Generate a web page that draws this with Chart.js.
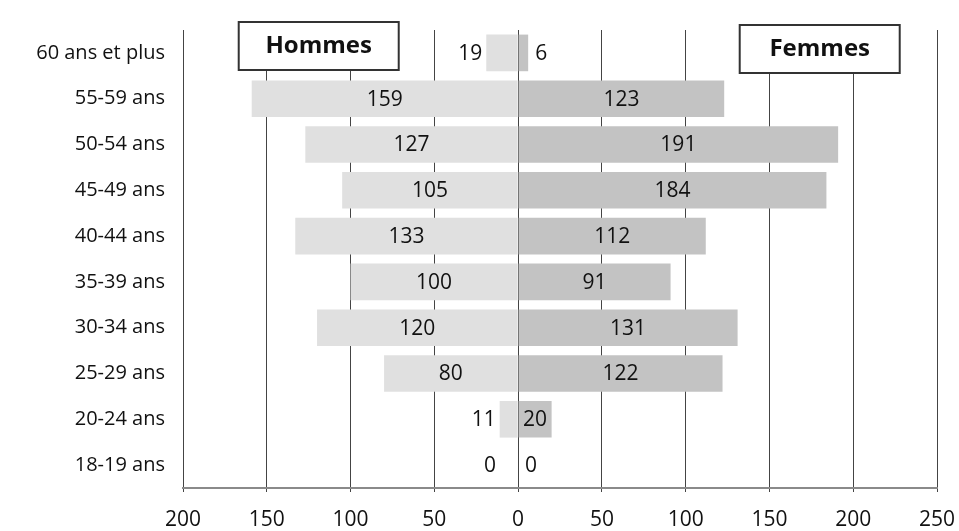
<!DOCTYPE html>
<html>
<head>
<meta charset="utf-8">
<script src="https://cdn.jsdelivr.net/npm/chart.js@4"></script>
<style>
  body { margin: 0; background: #fff; }
  #wrap { width: 959px; height: 531px; }
</style>
</head>
<body>
<div id="wrap"><canvas id="pyramide"></canvas></div>
<script>
var categories = ['60 ans et plus', '55-59 ans', '50-54 ans', '45-49 ans', '40-44 ans',
                  '35-39 ans', '30-34 ans', '25-29 ans', '20-24 ans', '18-19 ans'];
var hommes = [19, 159, 127, 105, 133, 100, 120, 80, 11, 0];
var femmes = [6, 123, 191, 184, 112, 91, 131, 122, 20, 0];
var axis_ticks = [-200, -150, -100, -50, 0, 50, 100, 150, 200, 250];

var font_family = '"Open Sans", "Noto Sans", sans-serif';

// value labels: centred in the bar, or just past the end when the bar is short
const value_labels = {
    id: 'value_labels',
    afterDatasetsDraw(chart) {
        const ctx = chart.ctx;
        ctx.save();
        ctx.font = '21px ' + font_family;
        ctx.fillStyle = '#111';
        ctx.textBaseline = 'middle';
        chart.data.datasets.forEach(function(ds, di) {
            const meta = chart.getDatasetMeta(di);
            const raw = di == 0 ? hommes : femmes;
            meta.data.forEach(function(bar, i) {
                const v = raw[i];
                if (v >= 20) {
                    ctx.textAlign = 'center';
                    ctx.fillText(v, (bar.x + bar.base) / 2, bar.y + 1);
                } else if (di == 0) {
                    ctx.textAlign = 'right';
                    ctx.fillText(v, Math.min(bar.x, bar.base) - (v == 0 ? 22 : 4), bar.y + 1);
                } else {
                    ctx.textAlign = 'left';
                    ctx.fillText(v, Math.max(bar.x, bar.base) + 7, bar.y + 1);
                }
            });
        });
        ctx.restore();
    }
};

// the two framed titles "Hommes" / "Femmes"
const side_titles = {
    id: 'side_titles',
    afterDatasetsDraw(chart) {
        const ctx = chart.ctx;
        const x = chart.scales.x;
        const top = chart.chartArea.top;
        ctx.save();
        [['Hommes', -119, top - 8], ['Femmes', 180, top - 5]].forEach(function(t) {
            const cx = x.getPixelForValue(t[1]);
            const w = 160, h = 48;
            ctx.fillStyle = '#fff';
            ctx.fillRect(cx - w / 2, t[2], w, h);
            ctx.strokeStyle = '#333';
            ctx.lineWidth = 2;
            ctx.strokeRect(cx - w / 2, t[2], w, h);
            ctx.fillStyle = '#111';
            ctx.font = 'bold 24px ' + font_family;
            ctx.textAlign = 'center';
            ctx.textBaseline = 'middle';
            ctx.fillText(t[0], cx, t[2] + h / 2);
        });
        ctx.restore();
    }
};

const pyramide = new Chart(document.getElementById('pyramide'), {
    type: 'bar',
    data: {
        labels: categories,
        datasets: [
            {
                label: 'Hommes',
                data: hommes.map(function(v) { return -v; }),
                backgroundColor: '#e0e0e0',
                barPercentage: 0.8,
                categoryPercentage: 1
            },
            {
                label: 'Femmes',
                data: femmes,
                backgroundColor: '#c3c3c3',
                barPercentage: 0.8,
                categoryPercentage: 1
            }
        ]
    },
    options: {
        indexAxis: 'y',
        responsive: true,
        maintainAspectRatio: false,
        animation: false,
        layout: {
            padding: { top: 27, right: 22, bottom: 0, left: 0 }
        },
        plugins: {
            legend: { display: false },
            tooltip: { enabled: false }
        },
        scales: {
            x: {
                stacked: true,
                min: -200,
                max: 250,
                afterBuildTicks: function(scale) {
                    scale.ticks = axis_ticks.map(function(v) { return { value: v }; });
                },
                afterFit: function(scale) {
                    scale.height = 43;
                    scale.paddingLeft = 0;
                    scale.paddingRight = 0;
                },
                grid: {
                    color: '#444',
                    lineWidth: 1,
                    tickLength: 4
                },
                border: { color: '#8a8a8a', width: 2 },
                ticks: {
                    color: '#111',
                    padding: 15,
                    maxRotation: 0,
                    font: { family: font_family, size: 21 },
                    callback: function(v) { return Math.abs(v); }
                }
            },
            y: {
                stacked: true,
                afterFit: function(scale) { scale.width = 183; },
                grid: { display: false, drawTicks: false },
                border: { display: false },
                ticks: {
                    color: '#111',
                    padding: 18,
                    font: { family: font_family, size: 20 }
                }
            }
        }
    },
    plugins: [value_labels, side_titles]
});
</script>
</body>
</html>
